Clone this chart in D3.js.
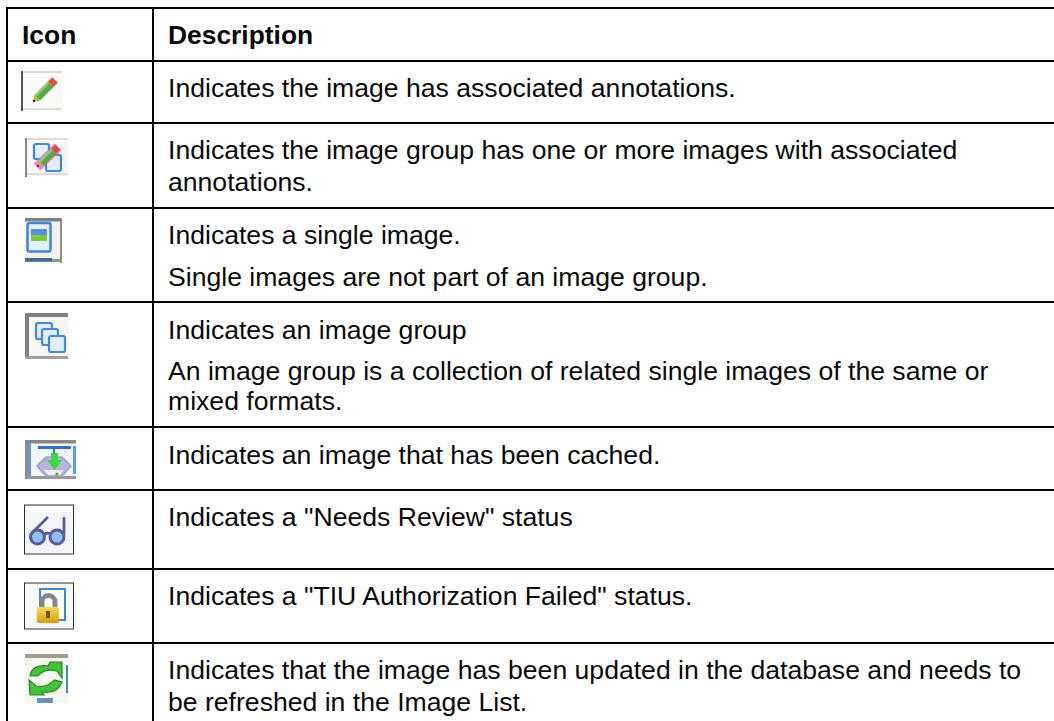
<!doctype html>
<html lang="en">
<head>
<meta charset="utf-8">
<title>Icons</title>
<script src="https://d3js.org/d3.v7.min.js"></script>
<style>
  body { margin: 0; background: #fff; }
  svg { display: block; }
  text { font-family: "Liberation Sans", Arial, sans-serif; fill: #0a0a0a; }
</style>
</head>
<body>
<div id="my_table"></div>
<script>
// table content
var headers = ["Icon", "Description"];
var rowNames = ["header", "annotated", "groupAnnotated", "single", "group", "cached", "review", "failed", "refresh"];
var descriptions = [
  [{l: 0, t: "Indicates the image has associated annotations."}],
  [{l: 0, t: "Indicates the image group has one or more images with associated"}, {l: 1, t: "annotations."}],
  [{l: 0, t: "Indicates a single image."}, {l: 2, t: "Single images are not part of an image group."}],
  [{l: 0, t: "Indicates an image group"}, {l: 2, t: "An image group is a collection of related single images of the same or"}, {l: 3, t: "mixed formats."}],
  [{l: 0, t: "Indicates an image that has been cached."}],
  [{l: 0, t: "Indicates a \"Needs Review\" status"}],
  [{l: 0, t: "Indicates a \"TIU Authorization Failed\" status."}],
  [{l: 0, t: "Indicates that the image has been updated in the database and needs to"}, {l: 1, t: "be refreshed in the Image List."}]
];

var width = 1054, height = 721;
var rowTops = [8, 61, 123, 208, 302, 427, 490, 569, 643];
var y = d3.scaleOrdinal().domain(rowNames).range(rowTops);

var svg = d3.select("#my_table").append("svg")
    .attr("width", width)
    .attr("height", height);

var defs = svg.append("defs");
defs.append("filter").attr("id", "soft")
    .append("feGaussianBlur").attr("stdDeviation", 0.55);
var gold = defs.append("linearGradient").attr("id", "gold").attr("x1", 0).attr("x2", 0).attr("y1", 0).attr("y2", 1);
gold.append("stop").attr("offset", 0).attr("stop-color", "#f6dc50");
gold.append("stop").attr("offset", 1).attr("stop-color", "#d8a010");

// grid lines
svg.selectAll("line.row").data(rowNames).enter().append("line")
    .attr("class", "row")
    .attr("x1", 6).attr("x2", width)
    .attr("y1", d => y(d)).attr("y2", d => y(d))
    .attr("stroke", "#000").attr("stroke-width", 2);
svg.selectAll("line.col").data([7, 153]).enter().append("line")
    .attr("class", "col")
    .attr("x1", d => d).attr("x2", d => d)
    .attr("y1", 7).attr("y2", height)
    .attr("stroke", "#000").attr("stroke-width", 2);

// header
svg.selectAll("text.head").data(headers).enter().append("text")
    .attr("class", "head")
    .attr("x", (d, i) => i ? 168 : 22)
    .attr("y", 44)
    .attr("font-size", 26.4)
    .attr("font-weight", "bold")
    .text(d => d);

// description text
var baseline = [96.5, 159, 244, 338.5, 463.5, 525.5, 605, 679];
var lineGap = [0, 31.5, 41.5, 71];
var rows = svg.selectAll("g.desc").data(descriptions).enter().append("g").attr("class", "desc");
rows.selectAll("text").data(d => d).enter().append("text")
    .attr("x", 168)
    .attr("y", function (d) {
        var i = descriptions.indexOf(d3.select(this.parentNode).datum());
        return baseline[i] + lineGap[d.l];
    })
    .attr("font-size", 26.6)
    .text(d => d.t);

// small helpers for the icons
function box(g, x, y, w, h, fill) {
    return g.append("rect").attr("x", x).attr("y", y).attr("width", w).attr("height", h).attr("fill", fill);
}
function pencil(g, x1, y1, x2, y2, w) {
    var a = Math.atan2(y2 - y1, x2 - x1) * 180 / Math.PI;
    var len = Math.hypot(x2 - x1, y2 - y1);
    var p = g.append("g").attr("transform", "translate(" + x1 + "," + y1 + ") rotate(" + a + ")");
    p.append("path").attr("d", "M0,0L6," + (-w / 2) + "V" + (w / 2) + "Z").attr("fill", "#c8b040");
    p.append("circle").attr("cx", 1.5).attr("cy", 0).attr("r", 1.2).attr("fill", "#333");
    box(p, 6, -w / 2, len - 12, w, "#58a848");
    box(p, 6, -w / 2, len - 12, 2.5, "#8ed070");
    box(p, len - 6, -w / 2, 6, w, "#dc5040");
}
function square(g, x, y, w, h, fill) {
    g.append("rect").attr("x", x).attr("y", y).attr("width", w).attr("height", h).attr("rx", 2)
        .attr("fill", fill || "#e2effb").attr("stroke", "#3f88dc").attr("stroke-width", 2.2);
}

var icons = svg.append("g").attr("class", "icons").attr("filter", "url(#soft)");

// pencil
var i1 = icons.append("g");
box(i1, 21, 71, 41, 40, "#fafaf8");
box(i1, 21, 71, 41, 2, "#dedcd4");
box(i1, 21, 108, 41, 2, "#dedcd4");
box(i1, 21, 71, 2, 40, "#555");
pencil(i1, 33, 102, 55, 80, 8);

// group with pencil
var i2 = icons.append("g");
box(i2, 25, 138, 43, 38, "#f6f6f4");
box(i2, 25, 138, 43, 2, "#dedcd4");
box(i2, 25, 173, 43, 2, "#dedcd4");
box(i2, 25, 138, 2, 39, "#888");
square(i2, 34, 144, 15, 15);
square(i2, 46, 155, 15, 16);
i2.append("path").attr("d", "M37,167L58,147").attr("stroke", "#f050e0").attr("stroke-width", 10).attr("opacity", 0.7);
pencil(i2, 37, 167, 58, 147, 7);

// single image
var i3 = icons.append("g");
box(i3, 25, 218, 37, 45, "#f3f2ea");
box(i3, 25, 218, 37, 3.5, "#808080");
box(i3, 60, 218, 2, 45, "#909090");
box(i3, 25, 259, 37, 3, "#909890");
box(i3, 25, 258, 27, 3.5, "#4a6a90");
i3.append("rect").attr("x", 27.5).attr("y", 223).attr("width", 23).attr("height", 28.5).attr("rx", 2)
    .attr("fill", "#e4f0fa").attr("stroke", "#3f86d8").attr("stroke-width", 2.5);
box(i3, 31, 229, 16, 6, "#5a8fd8");
box(i3, 31, 235, 16, 6, "#7cc83c");

// image group
var i4 = icons.append("g");
box(i4, 25, 313, 43, 46, "#f6f6f2");
box(i4, 25, 313, 43, 4, "#808080");
box(i4, 25, 313, 4, 46, "#808080");
box(i4, 25, 356, 43, 3, "#a0a098");
square(i4, 36, 323, 16, 16);
square(i4, 42, 329, 16, 16);
square(i4, 49, 336, 16, 16);

// cached
var i5 = icons.append("g");
box(i5, 25, 440, 51, 39, "#f4f6f8");
box(i5, 25, 440, 51, 3.5, "#888");
box(i5, 25, 476, 51, 3, "#999");
box(i5, 25, 440, 2, 39, "#888");
box(i5, 27, 443, 4, 33, "#6f93c8");
box(i5, 73, 446, 3, 28, "#5aa0e0");
box(i5, 38, 446, 33, 3, "#2f6fd0");
box(i5, 53, 449, 2, 5, "#2f6fd0");
i5.append("path").attr("d", "M37,466L46,457H62L71,466L63,475H45Z").attr("fill", "#b4b4dc").attr("stroke", "#9c9cd0").attr("stroke-width", 1.5);
i5.append("path").attr("d", "M44,470H64L60,475H48Z").attr("fill", "#eeeef8");
i5.append("path").attr("d", "M51,453H58V460H62L54.5,470L47,460H51Z").attr("fill", "#3cd83c");
i5.append("circle").attr("cx", 57).attr("cy", 474).attr("r", 1.6).attr("fill", "#3cb83c");

// needs review
var i6 = icons.append("g");
box(i6, 24.5, 505, 49, 49, "#f3f5f8").attr("stroke", "#333");
box(i6, 25, 506, 48, 6, "#fff");
i6.selectAll("circle").data([37.5, 57]).enter().append("circle")
    .attr("cx", d => d).attr("cy", 537).attr("r", 7)
    .attr("fill", "#8fc0ee").attr("stroke", "#5a5aa0").attr("stroke-width", 3);
i6.append("path").attr("d", "M31,534L48,517M44,535Q48,531 51,535M64,534V517").attr("stroke", "#5a5aa0").attr("stroke-width", 2.8).attr("fill", "none");

// lock
var i7 = icons.append("g");
box(i7, 24.5, 583, 49, 46, "#f8f8f6").attr("stroke", "#333");
i7.append("rect").attr("x", 40).attr("y", 589).attr("width", 25).attr("height", 31)
    .attr("fill", "#fff").attr("stroke", "#3f86d8").attr("stroke-width", 2);
i7.append("path").attr("d", "M42,608V602A6.5,6.5 0 0 1 55,602V608").attr("fill", "none").attr("stroke", "#888").attr("stroke-width", 5);
i7.append("rect").attr("x", 37).attr("y", 607).attr("width", 22).attr("height", 16).attr("rx", 1.5).attr("fill", "url(#gold)");
box(i7, 46, 611, 4, 7, "#6a5420");

// refresh
var i8 = icons.append("g");
box(i8, 25, 654, 43, 49, "#f4f8f0");
box(i8, 25, 654, 43, 4, "#a09c90");
box(i8, 66, 665, 2, 28, "#3f86d8");
box(i8, 37, 698, 16, 5, "#5a96dc");
box(i8, 45, 698, 5, 5, "#888");
i8.append("path").attr("d", "M30,676Q32,664 48,666L50,662L62,662V678L57,671Q44,668 38,676Z").attr("fill", "#46c03c").attr("stroke", "#1f8a20").attr("stroke-width", 1.2);
i8.append("path").attr("d", "M62,682Q58,694 42,692L44,695L30,695L29,680L36,686Q48,688 54,680Z").attr("fill", "#46c03c").attr("stroke", "#1f8a20").attr("stroke-width", 1.2);
</script>
</body>
</html>
